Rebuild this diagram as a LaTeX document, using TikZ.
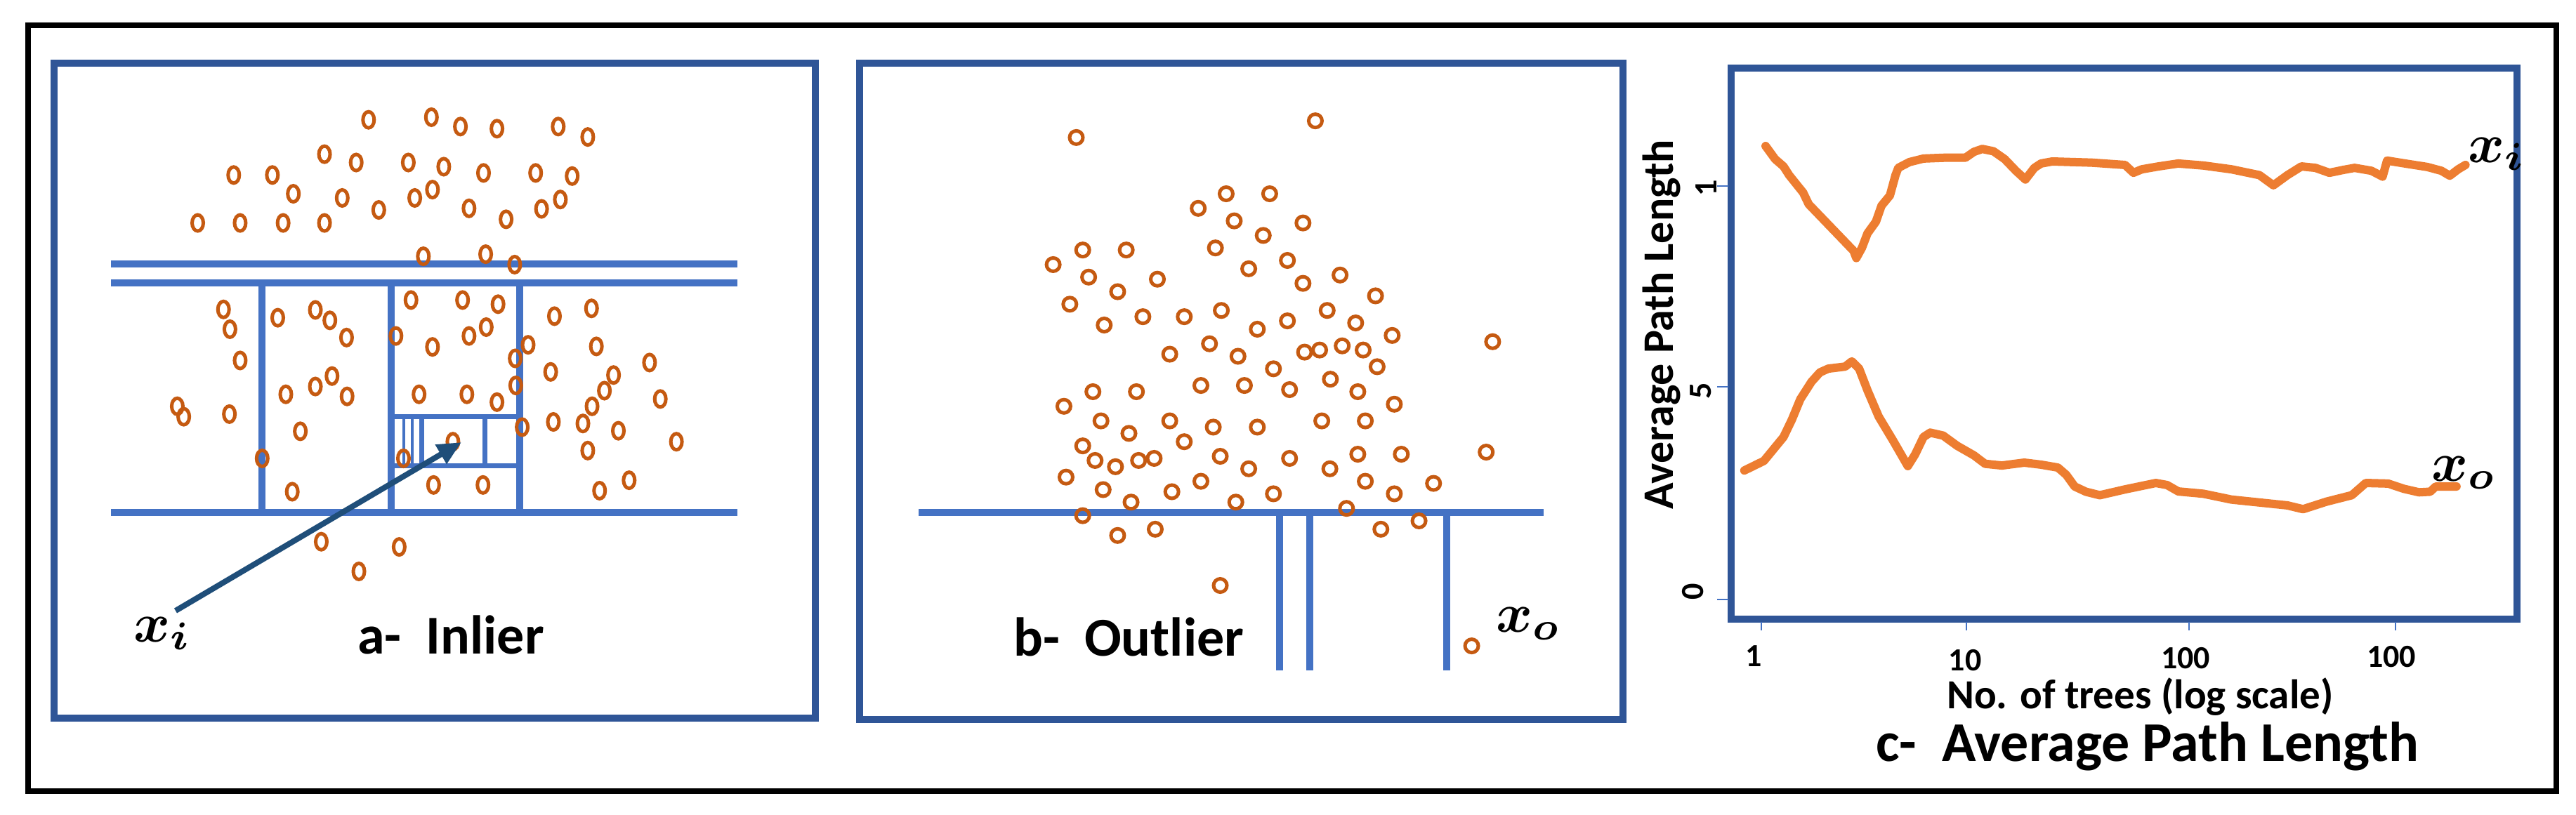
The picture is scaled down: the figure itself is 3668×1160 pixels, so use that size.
\documentclass[tikz,border=0pt]{standalone}
\usepackage{fontspec}
\setmainfont{Carlito}
\usetikzlibrary{arrows.meta}
\definecolor{boxblue}{HTML}{2F5597}
\definecolor{lineblue}{HTML}{4472C4}
\definecolor{arrowblue}{HTML}{1F4E79}
\definecolor{dotbrown}{HTML}{C55A11}
\definecolor{curveorange}{HTML}{ED7D31}
\newcommand{\bigmath}[1]{\scalebox{7.9}{\boldmath$#1$}}
\begin{document}
\begin{tikzpicture}[x=1pt,y=-1pt,
  panelbox/.style={draw=boxblue, line width=10},
  cutline/.style={draw=lineblue, line width=10},
  subcut/.style={draw=lineblue, line width=7},
  thincut/.style={draw=lineblue, line width=4.5},
  dotA/.style={draw=dotbrown, line width=5},
  dotB/.style={draw=dotbrown, line width=5},
  curve/.style={draw=curveorange, line width=12, line join=round, line cap=round},
  axtick/.style={draw=lineblue, line width=2.5},
  lbl/.style={font=\fontsize{78}{80}\selectfont\bfseries, inner sep=0pt},
  mathlbl/.style={font=\fontsize{10}{12}\selectfont, inner sep=0pt},
  ticklbl/.style={font=\fontsize{46}{48}\selectfont\bfseries, inner sep=0pt},
]
\useasboundingbox (0,0) rectangle (3668,1160);
\fill[white] (0,0) rectangle (3668,1160);
% outer frame
\draw[black, line width=8] (40,36) rectangle (3640,1127);

% ---------------- panel a ----------------
\draw[panelbox] (77,90) rectangle (1161,1023);
\draw[cutline] (158,376) -- (1050,376);
\draw[cutline] (158,403) -- (1050,403);
\draw[cutline] (158,730) -- (1050,730);
\draw[cutline] (373,403) -- (373,730);
\draw[cutline] (557,403) -- (557,730);
\draw[cutline] (740,403) -- (740,730);
\draw[subcut] (557,593) -- (740,593);
\draw[subcut] (557,663) -- (740,663);
\draw[thincut] (575,593) -- (575,663);
\draw[thincut] (587,593) -- (587,663);
\draw[subcut] (600,593) -- (600,663);
\draw[subcut] (690,593) -- (690,663);
\foreach \px/\py in {
686/230, 803/225, 857/243, 925/247, 1039/243, 1094/263,
604/296, 663/312, 760/312, 826/320, 900/332, 997/332, 1065/338,
435/336, 507/336, 546/372, 637/380, 772/380, 805/364, 705/403, 873/400, 942/421, 1008/401, 1043/383,
368/428, 447/428, 527/428, 604/428,
788/492, 904/488, 958/508,
416/594, 428/632, 447/692, 517/610, 587/595, 614/615, 645/648,
330/780, 342/800, 427/795, 532/757, 587/742, 618/722, 646/761, 559/828, 488/880, 544/944,
765/576, 861/576, 927/584, 737/645, 805/666, 873/645, 905/628, 780/757, 869/757, 925/772, 843/848, 751/880, 807/931, 899/931,
983/662, 959/688, 960/740, 972/820,
1032/607, 1101/592, 1110/665, 1025/714, 1142/720, 1209/696, 1125/750, 1102/780, 1085/813, 1229/766, 1030/810, 1151/827, 1094/865, 1259/848, 1171/922, 1116/942,
598/1040, 743/1050, 668/1097}
  \draw[dotA] ({\px*0.765},{\py*0.742}) ellipse [x radius=8, y radius=11.5];
\coordinate (astart) at (250,870);
\coordinate (aend) at (657,630);
\draw[arrowblue, line width=8, -{Triangle[length=34pt,width=30pt]}] (astart) -- (aend);
\node[mathlbl, anchor=base west] (xi) at (190,914) {\bigmath{x_i}};
\node[lbl, anchor=base west] (la) at (509,931) {a-\ \ Inlier};

% ---------------- panel b ----------------
\draw[panelbox] (1224,90) rectangle (2311,1025);
\draw[cutline] (1308,730) -- (2198,730);
\draw[cutline] (1822,730) -- (1822,955);
\draw[cutline] (1865,730) -- (1865,955);
\draw[cutline] (2060,730) -- (2060,955);
\foreach \px/\py in {
500/264, 945/232,
779/372, 860/372, 727/400, 794/424, 922/428, 848/452, 759/476,
512/480, 593/480, 457/508, 523/532, 651/536, 577/560, 821/516, 893/500, 922/544, 991/528, 1057/568,
488/584, 552/624, 624/608, 701/608, 770/596, 837/632, 893/616, 967/596, 1020/620, 1088/644,
674/680, 748/660, 801/684, 867/708, 925/676, 953/672, 995/664, 1034/672, 1060/704,
531/752, 612/752, 477/780, 732/740, 813/740, 897/748, 973/728, 1024/752, 1092/776,
546/808, 598/832, 674/808, 701/848, 755/820, 837/820, 957/808, 1038/808,
512/856, 535/884, 573/896, 616/884, 645/880, 768/876, 821/900, 897/880, 972/900, 1024/872, 1105/872,
481/916, 550/940, 602/964, 678/944, 732/924, 797/964, 867/948, 1038/924, 1092/948, 1165/928,
512/990, 577/1028, 647/1016, 1003/976, 1067/1016, 1138/1000,
768/1124, 1275/656, 1263/868, 1236/1240}
  \draw[dotB] ({1150+\px*0.765},{\py*0.742}) circle [radius=9.5];
\node[mathlbl, anchor=base west] (xo) at (2130,900) {\bigmath{x_o}};
\node[lbl, anchor=base west] (lb) at (1443,934) {b-\ \ Outlier};

% ---------------- panel c ----------------
\draw[panelbox] (2465,97) rectangle (3584,882);
\foreach \ty in {265,551,854} \draw[axtick] (2445,\ty) -- (2461,\ty);
\foreach \tx in {2508,2800,3117,3411} \draw[axtick] (\tx,886) -- (\tx,898);
\node[ticklbl, rotate=90] (ty1) at (2430,268) {1};
\node[ticklbl, rotate=90] (ty5) at (2422,557) {5};
\node[ticklbl, rotate=90] (ty0) at (2411,843) {0};
\node[ticklbl] (tx1) at (2497,935) {1};
\node[ticklbl] (tx10) at (2798,941) {10};
\node[ticklbl] (tx100) at (3112,938) {100};
\node[ticklbl] (tx100b) at (3405,936) {100};
\node[font=\fontsize{62}{64}\selectfont\bfseries, rotate=90, inner sep=0pt] (ylab) at (2366,462) {Average Path Length};
\node[font=\fontsize{59}{60}\selectfont\bfseries, anchor=base west, inner sep=0pt] (xlab) at (2772,1009) {No. of trees (log scale)};
\node[font=\fontsize{80}{82}\selectfont\bfseries, anchor=base west, inner sep=0pt] (lc) at (2671,1084) {c-\ \ Average Path Length};
\begin{scope}[shift={(2420,150)}, xscale=0.7972, yscale=0.4145]
\draw[curve] (118,140) -- (135,185) -- (150,210) -- (160,240) -- (185,300) -- (195,340) -- (240,430) -- (275,500) -- (280,525) -- (290,490) -- (300,440) -- (315,400) -- (325,345) -- (340,310) -- (350,240) -- (355,215) -- (375,195) -- (400,183) -- (440,180) -- (475,180) -- (490,160) -- (505,150) -- (525,158) -- (545,185) -- (565,225) -- (582,255) -- (598,215) -- (610,200) -- (630,193) -- (700,197) -- (760,205) -- (775,232) -- (790,220) -- (820,210) -- (855,200) -- (900,207) -- (950,220) -- (1000,240) -- (1025,275) -- (1050,240) -- (1075,210) -- (1100,215) -- (1125,232) -- (1150,222) -- (1170,215) -- (1200,225) -- (1220,245) -- (1228,190) -- (1260,200) -- (1300,212) -- (1325,225) -- (1340,242) -- (1355,220) -- (1368,205);
\draw[curve] (80,1255) -- (115,1222) -- (150,1140) -- (165,1080) -- (180,1010) -- (200,950) -- (215,918) -- (230,905) -- (260,898) -- (272,880) -- (285,905) -- (300,980) -- (320,1070) -- (345,1150) -- (372,1240) -- (385,1200) -- (400,1140) -- (412,1125) -- (435,1135) -- (460,1170) -- (490,1203) -- (510,1232) -- (540,1238) -- (580,1228) -- (610,1235) -- (640,1245) -- (655,1270) -- (670,1310) -- (690,1328) -- (715,1340) -- (760,1320) -- (815,1298) -- (835,1305) -- (855,1327) -- (900,1335) -- (950,1355) -- (1000,1365) -- (1050,1375) -- (1078,1388) -- (1120,1362) -- (1165,1340) -- (1190,1298) -- (1230,1300) -- (1258,1318) -- (1285,1330) -- (1305,1328) -- (1315,1310) -- (1352,1310);
\end{scope}
\node[mathlbl, anchor=base west] (xic) at (3514,231) {\bigmath{x_i}};
\node[mathlbl, anchor=base west] (xoc) at (3462,685) {\bigmath{x_o}};
\end{tikzpicture}
\end{document}
